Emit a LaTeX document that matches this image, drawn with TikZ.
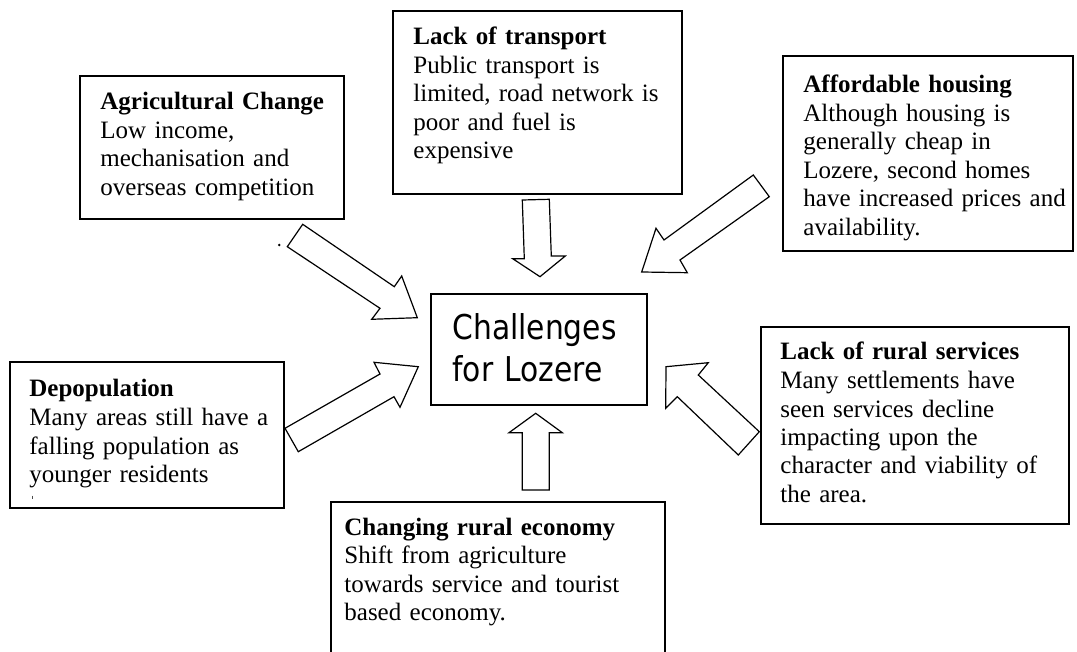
\documentclass[tikz,border=0pt]{standalone}
\usepackage{fontspec}
\setmainfont{Liberation Serif}
\newfontfamily\centrefont[FakeStretch=0.87]{DejaVu Sans}
\usetikzlibrary{fit}
\newcommand{\bodyfont}{\fontsize{12.5}{14.25}\selectfont}
\begin{document}
\begin{tikzpicture}[x=0.5pt,y=-0.5pt,
  box/.style={draw, line width=0.6pt, inner sep=0pt},
  txt/.style={anchor=base west, inner sep=0pt, align=left, text width=#1, font=\bodyfont},
  blockarrow/.style={draw, line width=0.6pt, line join=miter, fill=white}]
\useasboundingbox (0,0) rectangle (1077,652);
\clip (0,0) rectangle (1077,652);
\fill[white] (0,0) rectangle (1077,652);

% boxes
\node[box, fit={(80,76) (344,219)}] (agri) {};
\node[box, fit={(393,11) (682,194)}] (trans) {};
\node[box, fit={(783,56) (1073,251)}] (house) {};
\node[box, fit={(431,294) (647,405)}] (centre) {};
\node[box, fit={(10,362) (284,508)}] (depop) {};
\node[box, fit={(761,327) (1069,524)}] (serv) {};
\node[box, fit={(331,502) (665,700)}] (econ) {};

% texts
\node[txt=150pt] (agriT) at (100,110) {\textbf{Agricultural Change}\\Low income,\\mechanisation and\\overseas competition};
\node[txt=150pt] (transT) at (413,45) {\textbf{Lack of transport}\\Public transport is\\limited, road network is\\poor and fuel is\\expensive};
\node[txt=150pt] (houseT) at (803,93) {\textbf{Affordable housing}\\Although housing is\\generally cheap in\\Lozere, second homes\\have increased prices and\\availability.};
\node[txt=150pt] (depopT) at (29,397) {\textbf{Depopulation}\\Many areas still have a\\falling population as\\younger residents};
\node[txt=150pt] (servT) at (780,360) {\textbf{Lack of rural services}\\Many settlements have\\seen services decline\\impacting upon the\\character and viability of\\the area.};
\node[txt=180pt] (econT) at (344,535) {\textbf{Changing rural economy}\\Shift from agriculture\\towards service and tourist\\based economy.};
\node[anchor=base west, inner sep=0pt, align=left, text width=120pt,
      font=\centrefont\fontsize{17.1}{21}\selectfont] (centreT) at (452,340) {Challenges\\for Lozere};

% clipped remnant of next line in depopulation box
\draw[line width=0.5pt, black!70] (32,495.5) -- (32,499);
% stray dot
\fill (279.3,245) circle[radius=1.4];

% block arrows
\draw[blockarrow] (302.7,224.3) -- (394.3,286.7) -- (401.7,276) -- (417.3,317.7)
  -- (371.7,319.3) -- (380,308.3) -- (287.3,246.7) -- cycle;
\draw[blockarrow] (522.3,200) -- (549.3,199.3) -- (551.3,256) -- (565.3,256)
  -- (540,276.7) -- (512.7,258.7) -- (524.3,258.7) -- cycle;
\draw[blockarrow] (753.3,175) -- (664,240) -- (656,228.3) -- (641.7,272)
  -- (687.3,272.7) -- (680,260) -- (769.3,196.7) -- cycle;
\draw[blockarrow] (285,428.3) -- (380,374) -- (374,362.3) -- (418.3,366.7)
  -- (400,407.3) -- (394,396.7) -- (298.3,451.7) -- cycle;
\draw[blockarrow] (759.3,431.7) -- (698.3,375) -- (708.3,362.7) -- (666,366.7)
  -- (665.7,408.3) -- (677.3,396.7) -- (738.3,455) -- cycle;
\draw[blockarrow] (522.3,490) -- (522.3,432.7) -- (509,432.7) -- (535.7,413.3)
  -- (562.3,432.7) -- (549.3,432.7) -- (549.3,490) -- cycle;
\end{tikzpicture}
\end{document}
